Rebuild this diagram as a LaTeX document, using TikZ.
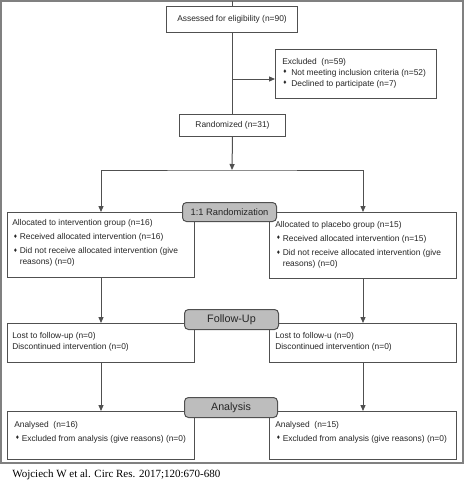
\documentclass[tikz,border=0pt]{standalone}
\usepackage{fontspec}
\setmainfont{Liberation Sans}
\newfontfamily\serifcite{Liberation Serif}
\usetikzlibrary{arrows.meta,calc}
\newdimen\pxu \pxu=0.75pt
\definecolor{boxline}{HTML}{505050}
\definecolor{textc}{HTML}{262626}
\definecolor{labfill}{HTML}{BDBDBD}
\definecolor{framec}{HTML}{808080}
\newcommand{\bul}[1]{\makebox[#1\pxu][l]{\raisebox{0.3ex}{\fontsize{4.8}{4.8}\selectfont ♦}}}
\begin{document}
\begin{tikzpicture}[x=0.75pt,y=-0.75pt,
  ln/.style={draw=boxline,line width=0.75pt},
  arr/.style={-{Triangle[length=4.5pt,width=3.8pt]}},
  arrs/.style={{Triangle[length=4.5pt,width=3.8pt]}-{Triangle[length=4.5pt,width=3.8pt]}},
  box/.style={draw=boxline,line width=0.75pt,fill=white,inner sep=0pt,anchor=north west},
  cbox/.style={box,text=textc,font=\fontsize{6.3}{8.25}\selectfont},
  txt/.style={anchor=north west,align=left,inner sep=0pt,text=textc,font=\fontsize{6.3}{8.25}\selectfont},
  lab/.style={draw=boxline,line width=0.75pt,fill=labfill,rounded corners=3pt,inner sep=0pt,anchor=north west,text=textc}
]
\useasboundingbox (0,0) rectangle (465,487);
\draw[draw=framec,line width=1.5pt] (1,1) rectangle (463,463);

% boxes
\node[cbox,minimum width=131*\pxu,minimum height=26*\pxu] (assess) at (166,6) {Assessed for eligibility (n=90)};
\node[box,minimum width=161*\pxu,minimum height=49*\pxu] (excl) at (275,49) {};
\node[cbox,minimum width=106*\pxu,minimum height=22*\pxu] (rand) at (179,114) {Randomized (n=31)};
\node[box,minimum width=187*\pxu,minimum height=65*\pxu] (allocL) at (7,212) {};
\node[box,minimum width=187*\pxu,minimum height=66*\pxu] (allocR) at (269,212) {};
\node[box,minimum width=187*\pxu,minimum height=39*\pxu] (fuL) at (7,323) {};
\node[box,minimum width=187*\pxu,minimum height=39*\pxu] (fuR) at (269,323) {};
\node[box,minimum width=187*\pxu,minimum height=48*\pxu] (anL) at (7,411) {};
\node[box,minimum width=187*\pxu,minimum height=48*\pxu] (anR) at (269,411) {};

% texts
\node[txt] (texcl) at (282,57.9) {Excluded\ \ (n=59)\\
\hspace*{1\pxu}\bul{8}Not meeting inclusion criteria (n=52)\\
\hspace*{1\pxu}\bul{8}Declined to participate (n=7)};
\node[txt] (tallocL) at (12,219.4) {Allocated to intervention group (n=16)\\[2.3pt]
\hspace*{1.5\pxu}\bul{6}Received allocated intervention (n=16)\\[2.3pt]
\hspace*{1.5\pxu}\bul{6}Did not receive allocated intervention (give\\
\hspace*{7.5\pxu}reasons) (n=0)};
\node[txt] (tallocR) at (275,220.9) {Allocated to placebo group (n=15)\\[2.3pt]
\hspace*{1.5\pxu}\bul{6}Received allocated intervention (n=15)\\[2.3pt]
\hspace*{1.5\pxu}\bul{6}Did not receive allocated intervention (give\\
\hspace*{7.5\pxu}reasons) (n=0)};
\node[txt] (tfuL) at (12,331.9) {Lost to follow-up (n=0)\\Discontinued intervention (n=0)};
\node[txt] (tfuR) at (275,331.9) {Lost to follow-u (n=0)\\Discontinued intervention (n=0)};
\node[txt] (tanL) at (14,420.9) {Analysed\ \ (n=16)\\[2.3pt]
\hspace*{1.5\pxu}\bul{6}Excluded from analysis (give reasons) (n=0)};
\node[txt] (tanR) at (275,420.9) {Analysed\ \ (n=15)\\[2.3pt]
\hspace*{1.5\pxu}\bul{6}Excluded from analysis (give reasons) (n=0)};

% connectors
\coordinate (top) at (232,1);
\coordinate (bx) at (232,79);
\coordinate (split) at (232,170);
\draw[ln] (top) -- (top |- assess.north);
\draw[ln] (assess.south) -- (assess.south |- rand.north);
\draw[ln,arr] (bx) -- (bx -| excl.west);
\draw[ln,arr] (rand.south) -- (split);
\draw[ln,arrs] (allocL.north) |- (split) -| (allocR.north);
\draw[ln,arr] (allocL.south) -- (fuL.north);
\draw[ln,arr] (allocR.south) -- (fuR.north);
\draw[ln,arr] (fuL.south) -- (anL.north);
\draw[ln,arr] (fuR.south) -- (anR.north);

% stage labels
\node[lab,minimum width=94*\pxu,minimum height=19*\pxu,font=\fontsize{7}{8}\selectfont] (lrand) at (182,202) {1:1 Randomization};
\node[lab,minimum width=94*\pxu,minimum height=20*\pxu,font=\fontsize{8.1}{9}\selectfont] (lfu) at (184,309) {Follow-Up};
\node[lab,minimum width=93*\pxu,minimum height=20*\pxu,font=\fontsize{8}{9}\selectfont] (lan) at (184,397) {Analysis};

% citation
\node[anchor=base west,inner sep=0pt,font=\serifcite\fontsize{8.25}{10}\selectfont] (cite) at (12,477.5) {Wojciech W et al. Circ Res. 2017;120:670-680};
\end{tikzpicture}
\end{document}
